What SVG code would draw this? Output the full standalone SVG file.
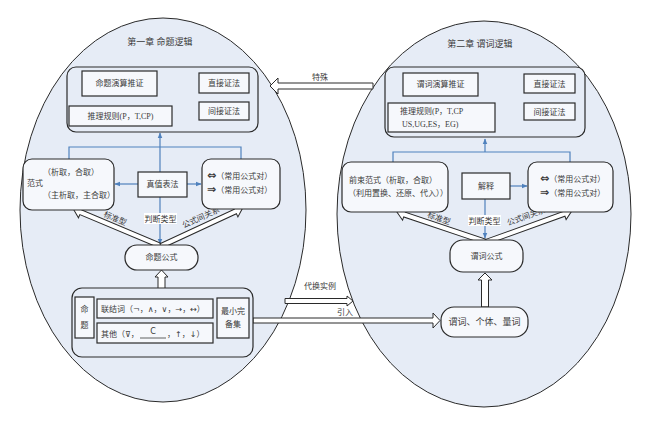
<svg xmlns="http://www.w3.org/2000/svg" width="650" height="423" viewBox="0 0 650 423">
<style>
text{font-family:"Liberation Serif","DejaVu Serif","Noto Sans CJK SC",serif;font-size:8px;fill:#3a3a3a}
.sym{font-family:"DejaVu Sans","DejaVu Serif",sans-serif}
.big{font-family:"DejaVu Sans",sans-serif;font-weight:bold;font-size:11px}
.ell{fill:#e6ecf6;stroke:#2a2a2a;stroke-width:1}
.grp{fill:#e6ecf6;stroke:#2a2a2a;stroke-width:1.2}
.box{fill:#f6f8fc;stroke:#2a2a2a;stroke-width:1.2}
.blue{fill:none;stroke:#4f81bd;stroke-width:1.2}
.hol{fill:#fff;stroke:#2a2a2a;stroke-width:1}
.c{text-anchor:middle}
.lab{fill:#fff}
</style>
<defs>
<marker id="ab" viewBox="0 0 10 10" refX="9" refY="5" markerWidth="6" markerHeight="6" orient="auto" markerUnits="userSpaceOnUse">
<path d="M0,1 L10,5 L0,9 Z" fill="#4f81bd"/>
</marker>
</defs>
<rect width="650" height="423" fill="#fff"/>
<ellipse class="ell" cx="163" cy="210" rx="143" ry="192"/>
<ellipse class="ell" cx="484" cy="214" rx="147" ry="193"/>

<g id="conn">
<path class="blue" d="M199,83 H158" marker-end="url(#ab)"/>
<path class="blue" d="M192,83 V111 H199"/>
<path class="blue" d="M160,172 V133" marker-end="url(#ab)"/>
<path class="blue" d="M69,159 V147 H241 V159"/>
<path class="blue" d="M138,184 H115" marker-end="url(#ab)"/>
<path class="blue" d="M187,184 H201" marker-end="url(#ab)"/>
<path class="blue" d="M160,197 V244" marker-end="url(#ab)"/>
<path class="blue" d="M94,318 H95.5 V309 H97 M95.5,318 V333 H97"/>
<path class="blue" d="M213,309 H215 V333 H213 M215,318 H217"/>
<path class="blue" d="M524,84 H479" marker-end="url(#ab)"/>
<path class="blue" d="M520,84 V111 H524"/>
<path class="blue" d="M485,152 V139" marker-end="url(#ab)"/>
<path class="blue" d="M393,162 V152 H570 V162"/>
<path class="blue" d="M510,186 H527" marker-end="url(#ab)"/>
<path class="blue" d="M485,199 V238" marker-end="url(#ab)"/>
<polygon class="hol" points="110,106 110,101 104,101 120,96 136,101 130,101 130,106"/>
<polygon class="hol" points="158,290 158,277 155,277 161.5,270 168,277 165,277 165,290"/>
<g transform="translate(161,246) rotate(202.8)"><polygon class="hol" points="0,-2.5 87,-2.5 87,-6 95,0 87,6 87,2.5 0,2.5"/></g>
<g transform="translate(161,246) rotate(-24.9)"><polygon class="hol" points="0,-2.5 82,-2.5 82,-6 90,0 82,6 82,2.5 0,2.5"/></g>
<polygon class="hol" points="430,103 430,101 425,101 441,96 457,101 452,101 452,103"/>
<polygon class="hol" points="481.5,307 481.5,280 478,280 485,273 492,280 488.5,280 488.5,307"/>
<g transform="translate(486,242) rotate(198.6)"><polygon class="hol" points="0,-2.5 86,-2.5 86,-6 94,0 86,6 86,2.5 0,2.5"/></g>
<g transform="translate(486,242) rotate(-19.8)"><polygon class="hol" points="0,-2.5 83,-2.5 83,-6 91,0 83,6 83,2.5 0,2.5"/></g>
<polygon class="hol" points="373,83 278,83 278,78 270,86 278,94 278,89 373,89"/>
<polygon class="hol" points="285,298.5 347,298.5 347,296 353,301 347,306 347,303.5 285,303.5"/>
<polygon class="hol" points="253,318 433,318 433,313 440,320.5 433,328 433,323 253,323"/>
<text x="320" y="80" class="c">特殊</text>
<text x="320" y="289" class="c">代换实例</text>
<text x="345" y="315" class="c">引入</text>
<text transform="translate(114,221) rotate(23)" class="c">标准型</text>
<rect x="144" y="213" width="33" height="11" class="lab"/>
<text x="160.5" y="222" class="c">判断类型</text>
<text transform="translate(202,220) rotate(-24)" class="c">公式间关系</text>
<text transform="translate(438,221) rotate(19)" class="c">标准型</text>
<rect x="468" y="215" width="33" height="11" class="lab"/>
<text x="484.5" y="224" class="c">判断类型</text>
<text transform="translate(527,219) rotate(-20)" class="c">公式间关系</text>
</g>

<text x="160" y="45" class="c" style="font-size:9px">第一章 命题逻辑</text>
<text x="480" y="47" class="c" style="font-size:9px">第二章 谓词逻辑</text>

<g id="l-group"><rect class="grp" x="67" y="67" width="191" height="65" rx="9"/></g>
<g id="l-calc"><rect class="box" x="82" y="71" width="75" height="25"/><text x="119.5" y="86" class="c">命题演算推证</text></g>
<g id="l-rules"><rect class="box" x="69" y="106" width="103" height="20"/><text x="120.5" y="119" class="c">推理规则(P，T,CP)</text></g>
<g id="l-direct"><rect class="box" x="199" y="73" width="50" height="20"/><text x="224" y="86" class="c">直接证法</text></g>
<g id="l-indirect"><rect class="box" x="199" y="102" width="50" height="18"/><text x="224" y="114" class="c">间接证法</text></g>
<g id="l-nf"><rect class="box" x="23" y="159" width="91" height="51" rx="9"/>
<text x="43" y="175">（析取，合取）</text><text x="27" y="186">范式</text><text x="43" y="198">（主析取，主合取）</text></g>
<g id="l-truth"><rect class="box" x="138" y="172" width="49" height="25"/><text x="162.5" y="187" class="c">真值表法</text></g>
<g id="l-pairs"><rect class="box" x="202" y="159" width="78" height="50" rx="9"/>
<text x="207" y="179"><tspan class="big">⇔</tspan>（常用公式对）</text>
<text x="207" y="193"><tspan class="big">⇒</tspan>（常用公式对）</text></g>
<g id="l-formula"><rect class="box" x="125" y="245" width="73" height="25" rx="12"/><text x="161.5" y="260" class="c">命题公式</text></g>
<g id="l-bottom"><rect class="grp" x="72" y="288" width="181" height="69" rx="10"/></g>
<g id="l-prop"><rect class="box" x="75" y="297" width="19" height="41"/><text x="84.5" y="312" class="c">命</text><text x="84.5" y="328" class="c">题</text></g>
<g id="l-conn"><rect class="box" x="97" y="299" width="116" height="19"/><text x="101" y="312">联结词（<tspan class="sym">¬</tspan>，<tspan class="sym">∧</tspan>，<tspan class="sym">∨</tspan>，<tspan class="sym">→</tspan>，<tspan class="sym">↔</tspan>）</text></g>
<g id="l-other"><rect class="box" x="97" y="323" width="116" height="20"/>
<text x="101" y="337">其他（<tspan class="sym">⊽</tspan>，</text><text x="153" y="334" class="c" style="font-family:'DejaVu Sans',sans-serif">C</text><line x1="140" y1="338" x2="166" y2="338" stroke="#3a3a3a" stroke-width="0.8"/><text x="167" y="337">，<tspan class="sym">↑</tspan>，<tspan class="sym">↓</tspan>）</text></g>
<g id="l-min"><rect class="box" x="217" y="298" width="32" height="40"/><text x="233" y="314" class="c">最小完</text><text x="233" y="327" class="c">备集</text></g>

<g id="r-group"><rect class="grp" x="385" y="67" width="200" height="70" rx="9"/></g>
<g id="r-calc"><rect class="box" x="403" y="73" width="75" height="23"/><text x="440.5" y="87" class="c">谓词演算推证</text></g>
<g id="r-rules"><rect class="box" x="388" y="103" width="107" height="29"/><text x="400" y="114">推理规则(P，T,CP</text><text x="402" y="127">US,UG,ES，EG)</text></g>
<g id="r-direct"><rect class="box" x="524" y="74" width="51" height="19"/><text x="549.5" y="87" class="c">直接证法</text></g>
<g id="r-indirect"><rect class="box" x="524" y="103" width="51" height="17"/><text x="549.5" y="115" class="c">间接证法</text></g>
<g id="r-nf"><rect class="box" x="342" y="162" width="106" height="50" rx="9"/>
<text x="349" y="183">前束范式（析取，合取）</text><text x="348" y="196">（利用置换、还原、代入））</text></g>
<g id="r-interp"><rect class="box" x="462" y="173" width="48" height="26"/><text x="486" y="189" class="c">解释</text></g>
<g id="r-pairs"><rect class="box" x="528" y="162" width="85" height="50" rx="9"/>
<text x="540" y="182"><tspan class="big">⇔</tspan>（常用公式对）</text>
<text x="540" y="196"><tspan class="big">⇒</tspan>（常用公式对）</text></g>
<g id="r-formula"><rect class="box" x="450" y="240" width="73" height="32" rx="13"/><text x="486.5" y="259" class="c">谓词公式</text></g>
<g id="r-pred"><rect class="box" x="441" y="307" width="87" height="30" rx="13"/><text x="484.5" y="325" class="c" style="font-size:9px">谓词、个体、量词</text></g>
</svg>
